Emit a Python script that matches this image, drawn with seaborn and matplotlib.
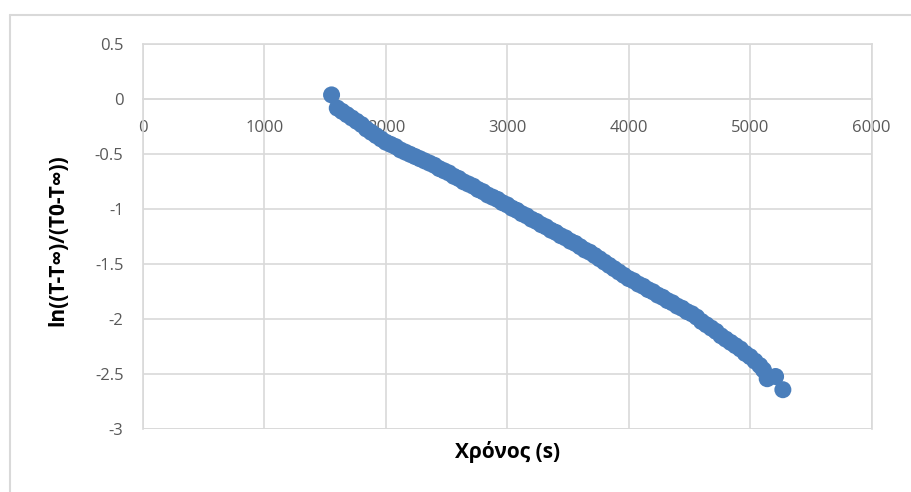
import seaborn as sns
import matplotlib.pyplot as plt
import pandas as pd
from matplotlib.lines import Line2D

sns.set_theme(style="white")
plt.rcParams['font.family'] = ['Open Sans', 'DejaVu Sans']

# time in seconds and ln((T-Tinf)/(T0-Tinf))
time_s = [1553, 1600, 1640, 1680, 1720, 1760, 1800, 1840, 1880, 1920, 1960, 2000,
          2040, 2080, 2120, 2160, 2200, 2240, 2280, 2320, 2360, 2400, 2440, 2480,
          2520, 2560, 2600, 2640, 2680, 2720, 2760, 2800, 2840, 2880, 2920, 2960,
          3000, 3040, 3080, 3120, 3160, 3200, 3240, 3280, 3320, 3360, 3400, 3440,
          3480, 3520, 3560, 3600, 3640, 3680, 3720, 3760, 3800, 3840, 3880, 3920,
          3960, 4000, 4040, 4080, 4120, 4160, 4200, 4240, 4280, 4320, 4360, 4400,
          4440, 4480, 4520, 4560, 4600, 4640, 4680, 4720, 4760, 4800, 4840, 4880,
          4920, 4960, 5000, 5040, 5080, 5110, 5141, 5210, 5270]
ln_ratio = [0.04, -0.08, -0.11, -0.14, -0.17, -0.20, -0.23, -0.27, -0.30, -0.33, -0.36, -0.39,
            -0.41, -0.43, -0.46, -0.48, -0.50, -0.52, -0.54, -0.56, -0.58, -0.60, -0.63, -0.65,
            -0.67, -0.70, -0.72, -0.75, -0.77, -0.79, -0.82, -0.84, -0.87, -0.89, -0.91, -0.94,
            -0.96, -0.99, -1.01, -1.04, -1.06, -1.09, -1.11, -1.14, -1.16, -1.19, -1.21, -1.24,
            -1.26, -1.29, -1.31, -1.34, -1.37, -1.39, -1.42, -1.45, -1.48, -1.51, -1.54, -1.57,
            -1.60, -1.63, -1.65, -1.68, -1.70, -1.73, -1.75, -1.78, -1.80, -1.83, -1.85, -1.88,
            -1.90, -1.93, -1.95, -1.98, -2.02, -2.05, -2.08, -2.11, -2.15, -2.18, -2.21, -2.24,
            -2.27, -2.31, -2.34, -2.38, -2.42, -2.46, -2.54, -2.52, -2.64]

x_ticks = [0, 1000, 2000, 3000, 4000, 5000, 6000]
y_ticks = [0.5, 0, -0.5, -1, -1.5, -2, -2.5, -3]

df = pd.DataFrame({"time": time_s, "ln": ln_ratio})

grid_c = "#d9d9d9"
text_c = "#595959"

fig = plt.figure(figsize=(9.12, 4.92), dpi=100)
ax = fig.add_axes([143 / 912, 1 - 429.3 / 492, (871.5 - 143) / 912, (429.3 - 44.3) / 492])

sns.scatterplot(data=df, x="time", y="ln", ax=ax, s=150, color="#4a7ebb",
                edgecolor="none", linewidth=0, zorder=3, clip_on=False)

ax.set_xlim(0, 6000)
ax.set_ylim(-3, 0.5)
ax.set_xticks(x_ticks)
ax.set_yticks(y_ticks)
ax.set_yticklabels([f"{v:g}" for v in y_ticks])
ax.grid(True, color=grid_c, linewidth=1.2)
ax.set_axisbelow(True)

for side in ["top", "right", "left"]:
    ax.spines[side].set_color(grid_c)
    ax.spines[side].set_linewidth(1.2)
ax.spines["bottom"].set_position(("data", 0))
ax.spines["bottom"].set_color(grid_c)
ax.spines["bottom"].set_linewidth(1.2)
# bottom frame line of the plot area
ax.axhline(-3, color=grid_c, linewidth=1.2, zorder=1)

ax.tick_params(axis="x", length=0, pad=15, labelsize=12, labelcolor=text_c)
ax.tick_params(axis="y", length=0, pad=14, labelsize=12, labelcolor=text_c)

ax.set_xlabel("")
ax.set_ylabel("")
fig.text(508 / 912, 1 - 452 / 492, "Χρόνος (s)", ha="center", va="center",
         fontsize=15, fontweight="bold", color="black")
fig.text(58 / 912, 1 - 240 / 492, "ln((T-T∞)/(T0-T∞))", ha="center", va="center",
         rotation=90, fontsize=15, fontweight="bold", color="black")

# outer chart border
fig.add_artist(Line2D([10 / 912, 10 / 912], [0, 1 - 15 / 492], transform=fig.transFigure,
                      color=grid_c, linewidth=1.5))
fig.add_artist(Line2D([10 / 912, 1], [1 - 15 / 492, 1 - 15 / 492], transform=fig.transFigure,
                      color=grid_c, linewidth=1.5))

fig.savefig("out.png", dpi=100)
